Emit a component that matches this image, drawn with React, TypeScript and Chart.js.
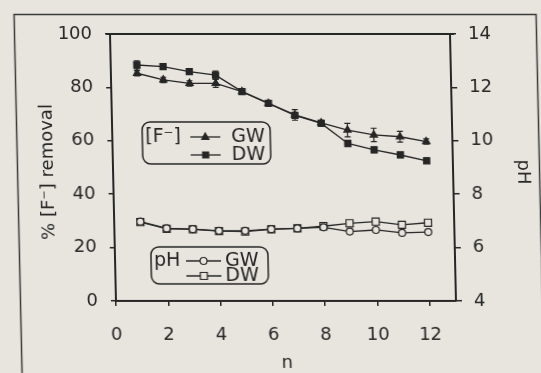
import React, { useEffect, useRef } from "react";
import { Chart, registerables } from "chart.js";
Chart.register(...registerables);

// ---- data ----
const nValues = [1, 2, 3, 4, 5, 6, 7, 8, 9, 10, 11, 12];
const fRemovalGW = [85.3, 82.8, 81.5, 81.5, 78.4, 74, 69.7, 66.7, 64, 62.2, 61.5, 59.7];
const fRemovalDW = [88.4, 87.8, 85.9, 84.6, 78.4, 74, 69.5, 66.5, 59, 56.6, 54.7, 52.5];
const fErrGW = [1, 1, 1, 1.5, 1, 1, 2, 1, 2.5, 2.5, 2, 1];
const fErrDW = [1.5, 1, 1, 1.5, 1, 1, 1, 1, 1, 1, 1, 1];
const pHGW = [6.97, 6.72, 6.69, 6.63, 6.63, 6.69, 6.72, 6.76, 6.6, 6.66, 6.55, 6.58];
const pHDW = [6.95, 6.7, 6.68, 6.62, 6.6, 6.68, 6.72, 6.8, 6.91, 6.97, 6.85, 6.93];
const pHErrGW = [0, 0, 0, 0, 0, 0, 0, 0.05, 0.08, 0.08, 0.08, 0.08];
const pHErrDW = [0, 0, 0, 0, 0, 0, 0, 0.05, 0.08, 0.08, 0.08, 0.08];
const xTicks = [0, 2, 4, 6, 8, 10, 12];
const leftTicks = [0, 20, 40, 60, 80, 100];
const rightTicks = [4, 6, 8, 10, 12, 14];

const BG = "#e7e5de";
const INK = "#262626";
const FONT = "DejaVu Sans";

function marker(ctx: CanvasRenderingContext2D, style: string, x: number, y: number, filled: boolean) {
  ctx.save();
  ctx.beginPath();
  if (style === "triangle") {
    const r = 4;
    ctx.moveTo(x, y - r);
    ctx.lineTo(x + r * 0.9, y + r * 0.6);
    ctx.lineTo(x - r * 0.9, y + r * 0.6);
    ctx.closePath();
  } else if (style === "rect") {
    const s = filled ? 3 : 3.5;
    ctx.rect(x - s, y - s, 2 * s, 2 * s);
  } else {
    ctx.arc(x, y, 3.5, 0, Math.PI * 2);
  }
  ctx.fillStyle = filled ? INK : BG;
  ctx.fill();
  ctx.lineWidth = 1.2;
  ctx.strokeStyle = INK;
  ctx.stroke();
  ctx.restore();
}

const decorPlugin = {
  id: "decor",
  beforeDraw(chart: any) {
    const ctx = chart.ctx as CanvasRenderingContext2D;
    ctx.save();
    ctx.fillStyle = BG;
    ctx.fillRect(0, 0, chart.width, chart.height);
    ctx.strokeStyle = "#3a3a3a";
    ctx.lineWidth = 1.5;
    ctx.strokeRect(14.5, 14.5, 522, 420);
    ctx.restore();
  },
  beforeDatasetsDraw(chart: any) {
    const ctx = chart.ctx as CanvasRenderingContext2D;
    ctx.save();
    ctx.strokeStyle = INK;
    ctx.lineWidth = 1.2;
    chart.data.datasets.forEach((ds: any, i: number) => {
      const meta = chart.getDatasetMeta(i);
      const ys = chart.scales[ds.yAxisID];
      (ds.errors || []).forEach((e: number, j: number) => {
        if (!e) return;
        const pt = meta.data[j];
        const v = ds.data[j].y;
        const y1 = ys.getPixelForValue(v + e);
        const y2 = ys.getPixelForValue(v - e);
        ctx.beginPath();
        ctx.moveTo(pt.x, y1);
        ctx.lineTo(pt.x, y2);
        ctx.moveTo(pt.x - 3, y1);
        ctx.lineTo(pt.x + 3, y1);
        ctx.moveTo(pt.x - 3, y2);
        ctx.lineTo(pt.x + 3, y2);
        ctx.stroke();
      });
    });
    ctx.restore();
  },
  afterDraw(chart: any) {
    const ctx = chart.ctx as CanvasRenderingContext2D;
    const a = chart.chartArea;
    ctx.save();
    // top frame
    ctx.strokeStyle = INK;
    ctx.lineWidth = 2;
    ctx.beginPath();
    ctx.moveTo(a.left - 4, a.top);
    ctx.lineTo(a.right + 4, a.top);
    ctx.stroke();

    ctx.fillStyle = INK;
    ctx.textAlign = "center";
    ctx.textBaseline = "middle";
    ctx.font = `18px "${FONT}"`;
    // x title
    ctx.fillText("n", (a.left + a.right) / 2, 363);
    // left title
    ctx.save();
    ctx.translate(45, 172);
    ctx.rotate(-Math.PI / 2);
    ctx.fillText("% [F\u207B] removal", 0, 0);
    ctx.restore();
    // right title
    ctx.save();
    ctx.translate(520, 172);
    ctx.rotate(Math.PI / 2);
    ctx.fillText("pH", 0, 0);
    ctx.restore();

    // legend boxes
    ctx.lineWidth = 1.5;
    ctx.strokeStyle = INK;
    ctx.beginPath();
    (ctx as any).roundRect(140, 122, 128, 42, 8);
    ctx.stroke();
    ctx.beginPath();
    (ctx as any).roundRect(146, 247, 117, 37, 8);
    ctx.stroke();

    ctx.textAlign = "left";
    ctx.font = `19px "${FONT}"`;
    ctx.fillText("[F\u207B]", 143, 137);
    ctx.fillText("GW", 229, 137);
    ctx.fillText("DW", 229, 155);
    ctx.fillText("pH", 149, 261);
    ctx.fillText("GW", 220, 261);
    ctx.fillText("DW", 220, 276);

    ctx.lineWidth = 1.3;
    const sample = (x1: number, x2: number, y: number, style: string, filled: boolean) => {
      ctx.beginPath();
      ctx.moveTo(x1, y);
      ctx.lineTo(x2, y);
      ctx.stroke();
      marker(ctx, style, (x1 + x2) / 2, y, filled);
    };
    sample(188, 218, 137, "triangle", true);
    sample(188, 218, 155, "rect", true);
    sample(181, 216, 261, "circle", false);
    sample(181, 216, 276, "rect", false);
    ctx.restore();
  },
};

function pts(ys: number[]) {
  return nValues.map((n, i) => ({ x: n, y: ys[i] }));
}

export default function App() {
  const ref = useRef<HTMLCanvasElement>(null);
  useEffect(() => {
    if (!ref.current) return;
    const tickFont = { family: FONT, size: 18 };
    const chart = new Chart(ref.current, {
      type: "line",
      data: {
        datasets: [
          {
            label: "[F-] GW",
            data: pts(fRemovalGW),
            yAxisID: "y",
            errors: fErrGW,
            borderColor: INK,
            borderWidth: 1.4,
            pointStyle: "triangle",
            pointRadius: 4,
            pointBackgroundColor: INK,
            pointBorderColor: INK,
            tension: 0,
          } as any,
          {
            label: "[F-] DW",
            data: pts(fRemovalDW),
            yAxisID: "y",
            errors: fErrDW,
            borderColor: INK,
            borderWidth: 1.4,
            pointStyle: "rect",
            pointRadius: 4.2,
            pointBackgroundColor: INK,
            pointBorderColor: INK,
            tension: 0,
          } as any,
          {
            label: "pH GW",
            data: pts(pHGW),
            yAxisID: "y1",
            errors: pHErrGW,
            borderColor: INK,
            borderWidth: 1.3,
            pointStyle: "circle",
            pointRadius: 3.5,
            pointBackgroundColor: BG,
            pointBorderColor: INK,
            pointBorderWidth: 1.2,
            tension: 0,
          } as any,
          {
            label: "pH DW",
            data: pts(pHDW),
            yAxisID: "y1",
            errors: pHErrDW,
            borderColor: INK,
            borderWidth: 1.3,
            pointStyle: "rect",
            pointRadius: 5,
            pointBackgroundColor: BG,
            pointBorderColor: INK,
            pointBorderWidth: 1.2,
            tension: 0,
          } as any,
        ],
      },
      options: {
        responsive: false,
        animation: false,
        devicePixelRatio: 1,
        layout: { padding: { top: 34, left: 0, right: 0, bottom: 0 } },
        plugins: { legend: { display: false }, tooltip: { enabled: false } },
        scales: {
          x: {
            type: "linear",
            min: 0,
            max: 13,
            afterBuildTicks: (s: any) => {
              s.ticks = xTicks.map((v) => ({ value: v }));
            },
            afterFit: (s: any) => {
              s.height = 72;
            },
            grid: { drawOnChartArea: false, drawTicks: true, tickLength: 5, color: INK, lineWidth: 1.5 },
            border: { display: true, color: INK, width: 2 },
            ticks: { font: tickFont, color: INK, padding: 19, maxRotation: 0 },
          },
          y: {
            type: "linear",
            position: "left",
            min: 0,
            max: 100,
            afterBuildTicks: (s: any) => {
              s.ticks = leftTicks.map((v) => ({ value: v }));
            },
            afterFit: (s: any) => {
              s.width = 110;
            },
            grid: { drawOnChartArea: false, drawTicks: true, tickLength: 5, color: INK, lineWidth: 1.5 },
            border: { display: true, color: INK, width: 2 },
            ticks: { font: tickFont, color: INK, padding: 13 },
          },
          y1: {
            type: "linear",
            position: "right",
            min: 4,
            max: 14,
            afterBuildTicks: (s: any) => {
              s.ticks = rightTicks.map((v) => ({ value: v }));
            },
            afterFit: (s: any) => {
              s.width = 91;
            },
            grid: { drawOnChartArea: false, drawTicks: true, tickLength: 6, color: INK, lineWidth: 1.5 },
            border: { display: true, color: INK, width: 2 },
            ticks: { font: tickFont, color: INK, padding: 12 },
          },
        },
      } as any,
      plugins: [decorPlugin],
    });
    return () => chart.destroy();
  }, []);

  return (
    <div
      style={{
        position: "fixed",
        left: 0,
        top: 0,
        width: 541,
        height: 373,
        overflow: "hidden",
        background: BG,
      }}
    >
      <canvas
        ref={ref}
        width={541}
        height={373}
        style={{
          display: "block",
          width: 541,
          height: 373,
          transform: "skewX(1.28deg)",
          transformOrigin: "0 34px",
        }}
      />
    </div>
  );
}
